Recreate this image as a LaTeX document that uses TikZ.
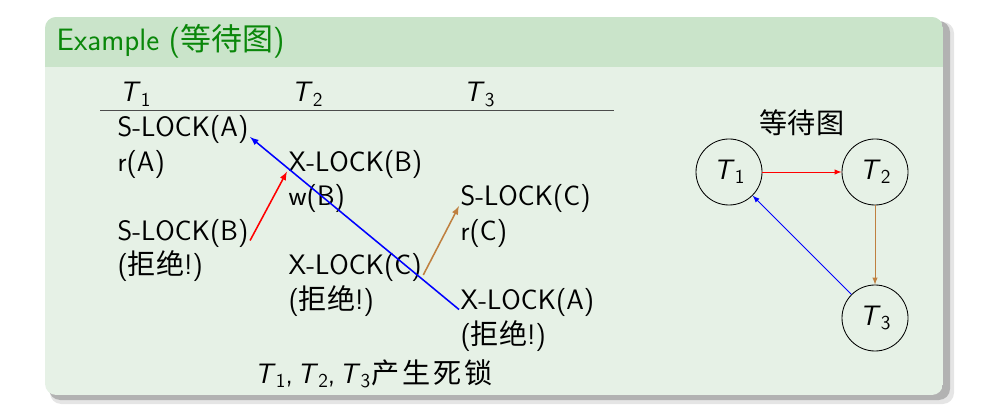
\documentclass[tikz,border=0pt]{standalone}
\usepackage{fontspec}
\newfontfamily\cjk{Noto Sans CJK SC}
\usetikzlibrary{arrows}
\definecolor{blockhead}{RGB}{202,228,202}
\definecolor{blockbody}{RGB}{230,241,230}
\definecolor{blocktitle}{RGB}{10,135,10}
\newcommand{\tv}[1]{\textsl{T}\raisebox{-0.35ex}{\fontsize{14pt}{14pt}\selectfont #1}}

\begin{document}
\begin{tikzpicture}[x=0.025cm,y=-0.025cm]
		\tikzstyle{every node}=[font=\sffamily\fontsize{20pt}{25pt}\selectfont]
		\tikzstyle{op}=[anchor=base west, inner sep=1pt]
		\tikzstyle{tnode}=[draw, circle, line width=0.6pt, minimum size=1.65cm, inner sep=0pt]
		\tikzstyle{lockarrow}=[line width=1.1pt, -latex]
		\tikzstyle{waitarrow}=[line width=0.7pt, -latex]
		
		\useasboundingbox (0,0) rectangle (991,405);
		
		% block with shadow
		\fill[black!10, rounded corners=8pt] (50,22) rectangle (954,404);
		\fill[black!30, rounded corners=8pt] (49,21) rectangle (950,400);
		\begin{scope}
			\clip[rounded corners=8pt] (45,17) rectangle (943,395);
			\fill[blockbody] (45,17) rectangle (943,395);
			\fill[blockhead] (45,17) rectangle (943,67);
		\end{scope}
		\node[op, text=blocktitle, font=\sffamily\fontsize{22pt}{26pt}\selectfont] (title) at (55,51) {Example ({\cjk 等待图})};
		
		% schedule
		\node[op] (h1) at (118,102) {\tv{1}};
		\node[op] (h2) at (290,102) {\tv{2}};
		\node[op] (h3) at (462,102) {\tv{3}};
		\draw[line width=0.6pt, black!70] (100,110) -- (614,110);
		
		\node[op] (slocka) at (116,137) {S-LOCK(A)};
		\node[op] (ra) at (116,171.5) {r(A)};
		\node[op] (slockb) at (116,240.5) {S-LOCK(B)};
		\node[op] (rej1) at (116,275) {({\cjk 拒绝}!)};
		
		\node[op] (xlockb) at (287,171.5) {X-LOCK(B)};
		\node[op] (wb) at (287,206) {w(B)};
		\node[op] (xlockc) at (287,275) {X-LOCK(C)};
		\node[op] (rej2) at (287,309.5) {({\cjk 拒绝}!)};
		
		\node[op] (slockc) at (459,206) {S-LOCK(C)};
		\node[op] (rc) at (459,240.5) {r(C)};
		\node[op] (xlocka) at (459,309.5) {X-LOCK(A)};
		\node[op] (rej3) at (459,344) {({\cjk 拒绝}!)};
		
		\node[op] (dead) at (253,383) {\tv{1},\hspace{3pt}\tv{2},\hspace{3pt}\tv{3}{\cjk\hspace{1pt}产\hspace{2pt}生\hspace{2pt}死\hspace{2pt}锁}};
		
		\draw[lockarrow, red] (slockb.base east) -- (xlockb.base west);
		\draw[lockarrow, blue] (xlocka.base west) -- (slocka.base east);
		\draw[lockarrow, brown] (xlockc.base east) -- (slockc.base west);
		
		% wait-for graph
		\node[font=\cjk\fontsize{20pt}{25pt}\selectfont] (wlabel) at (802,123) {等待图};
		\node[tnode] (g1) at (729,172) {\tv{1}};
		\node[tnode] (g2) at (875,172) {\tv{2}};
		\node[tnode] (g3) at (875,318) {\tv{3}};
		
		\draw[waitarrow, red] (g1) -- (g2);
		\draw[waitarrow, brown] (g2) -- (g3);
		\draw[waitarrow, blue] (g3) -- (g1);
		
	\end{tikzpicture}
\end{document}
